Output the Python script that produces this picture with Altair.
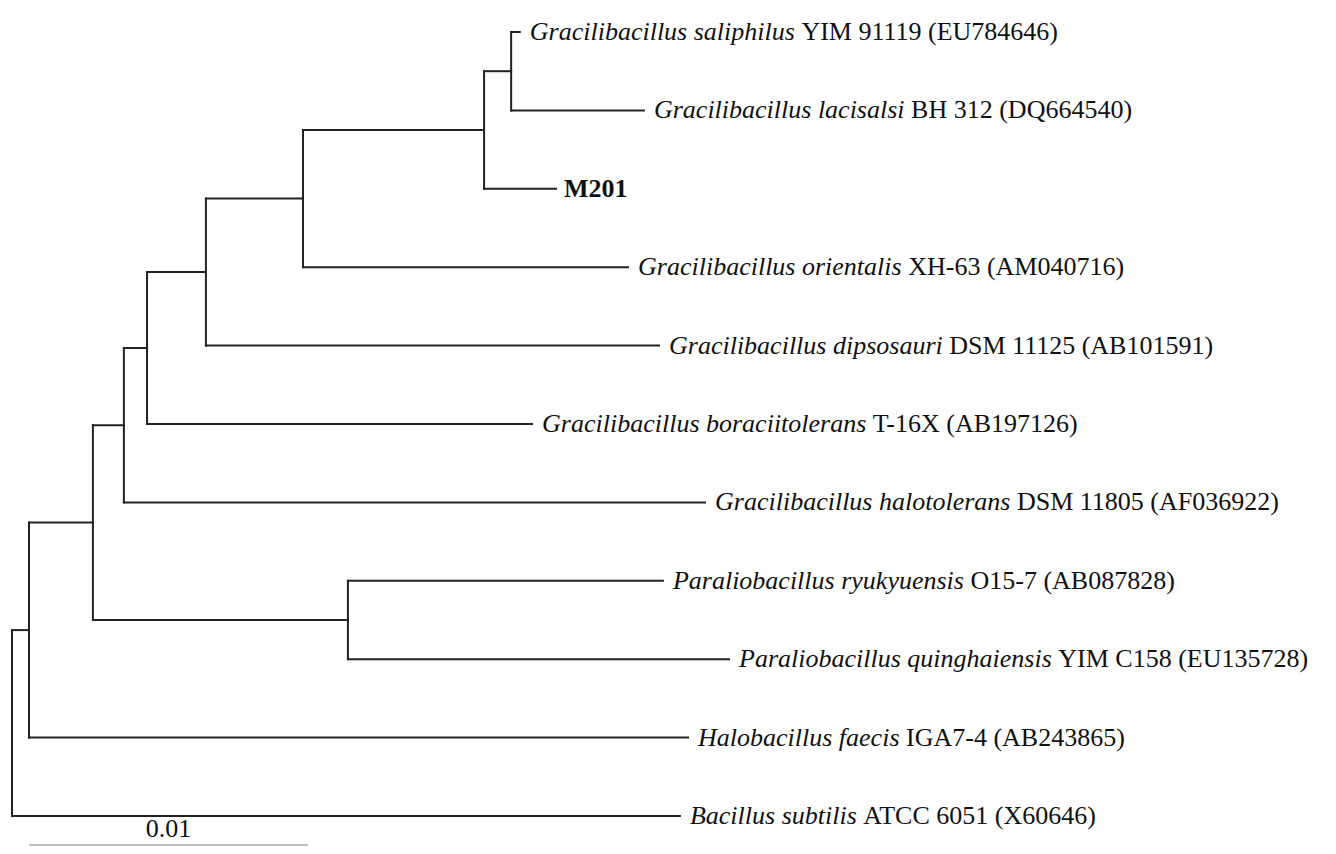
import altair as alt
import pandas as pd

# ---------------- data ----------------
leaf_italic = [
    "Gracilibacillus saliphilus",
    "Gracilibacillus lacisalsi",
    "",
    "Gracilibacillus orientalis",
    "Gracilibacillus dipsosauri",
    "Gracilibacillus boraciitolerans",
    "Gracilibacillus halotolerans",
    "Paraliobacillus ryukyuensis",
    "Paraliobacillus quinghaiensis",
    "Halobacillus faecis",
    "Bacillus subtilis",
]
leaf_rest = [
    "YIM 91119 (EU784646)",
    "BH 312 (DQ664540)",
    "M201",
    "XH-63 (AM040716)",
    "DSM 11125 (AB101591)",
    "T-16X (AB197126)",
    "DSM 11805 (AF036922)",
    "O15-7 (AB087828)",
    "YIM C158 (EU135728)",
    "IGA7-4 (AB243865)",
    "ATCC 6051 (X60646)",
]
leaf_bold = [False, False, True, False, False, False, False, False, False, False, False]
# cumulative distance from root (substitutions per site)
leaf_depth = [0.01820, 0.02265, 0.01950, 0.02208, 0.02319, 0.01864,
              0.02484, 0.02333, 0.02570, 0.02423, 0.02394]
leaf_parent = ["A", "A", "B", "C", "D", "E", "F", "P", "P", "H", "root"]

node_names = ["root", "H", "G", "F", "E", "D", "C", "B", "A", "P"]
node_depth = [0.0, 0.00061, 0.00290, 0.00401, 0.00484, 0.00695,
              0.01043, 0.01692, 0.01789, 0.01204]
node_parent = ["", "root", "H", "G", "F", "E", "D", "C", "B", "G"]

scale_bar_length = 0.01
scale_bar_label = "0.01"

# ---------------- layout ----------------
W, H = 1320, 838
X_DOMAIN = [-0.0001434, 0.047168]
Y_DOMAIN = [-0.3061, 10.383]
PXU = W / (X_DOMAIN[1] - X_DOMAIN[0])
FONT = "Liberation Serif"
FS = 26
GAP = 10

ITALIC_W = {" ": 250, "a": 500, "b": 500, "c": 444, "d": 500, "e": 444, "f": 278,
            "g": 500, "h": 500, "i": 278, "k": 444, "l": 278, "m": 722, "n": 500,
            "o": 500, "p": 500, "q": 500, "r": 389, "s": 389, "t": 278, "u": 500,
            "v": 444, "y": 444, "G": 722, "P": 611, "H": 722, "B": 611}


def italic_width(s):
    return sum(ITALIC_W.get(c, 500) for c in s) * FS / 1000.0


# ---------------- tree geometry ----------------
depth = {n: d for n, d in zip(node_names, node_depth)}
parent = {n: p for n, p in zip(node_names, node_parent)}
children = {n: [] for n in node_names}
ypos = {}
for i, (p, d) in enumerate(zip(leaf_parent, leaf_depth)):
    name = f"leaf{i}"
    depth[name] = d
    parent[name] = p
    children[p].append(name)
    ypos[name] = float(i)
for n, p in zip(node_names, node_parent):
    if p:
        children[p].append(n)


def get_y(n):
    if n in ypos:
        return ypos[n]
    ys = [get_y(c) for c in children[n]]
    ypos[n] = (min(ys) + max(ys)) / 2.0
    return ypos[n]


get_y("root")

segs = []
for n, p in parent.items():
    if p:
        segs.append({"x": depth[p], "x2": depth[n], "y": ypos[n], "y2": ypos[n]})
for n in node_names:
    ys = [ypos[c] for c in children[n]]
    segs.append({"x": depth[n], "x2": depth[n], "y": min(ys), "y2": max(ys)})
seg_df = pd.DataFrame(segs)

lab = []
for i in range(len(leaf_depth)):
    iw = italic_width(leaf_italic[i]) + (250 * FS / 1000.0 if leaf_italic[i] else 0)
    lab.append({
        "x": leaf_depth[i],
        "y": float(i),
        "ital": leaf_italic[i],
        "rest": leaf_rest[i],
        "xr": leaf_depth[i] + iw / PXU,
        "bold": leaf_bold[i],
    })
lab_df = pd.DataFrame(lab)

xs = alt.Scale(domain=X_DOMAIN, nice=False, zero=False)
ys_ = alt.Scale(domain=Y_DOMAIN, nice=False, zero=False, reverse=True)

lines = alt.Chart(seg_df).mark_rule(color="#222222", strokeWidth=2, strokeCap="square").encode(
    x=alt.X("x:Q", scale=xs, axis=None),
    x2="x2:Q",
    y=alt.Y("y:Q", scale=ys_, axis=None),
    y2="y2:Q",
)

ital = alt.Chart(lab_df[lab_df["ital"] != ""]).mark_text(
    align="left", baseline="middle", font=FONT, fontSize=FS, fontStyle="italic",
    dx=GAP, color="#111111"
).encode(x=alt.X("x:Q", scale=xs), y=alt.Y("y:Q", scale=ys_), text="ital:N")

rest = alt.Chart(lab_df[~lab_df["bold"]]).mark_text(
    align="left", baseline="middle", font=FONT, fontSize=FS, dx=GAP, color="#111111"
).encode(x=alt.X("xr:Q", scale=xs), y=alt.Y("y:Q", scale=ys_), text="rest:N")

bold = alt.Chart(lab_df[lab_df["bold"]]).mark_text(
    align="left", baseline="middle", font=FONT, fontSize=FS, fontWeight="bold",
    dx=GAP - 2, color="#111111"
).encode(x=alt.X("xr:Q", scale=xs), y=alt.Y("y:Q", scale=ys_), text="rest:N")

bar_df = pd.DataFrame({
    "x": [node_depth[1]], "x2": [node_depth[1] + scale_bar_length],
    "y": [10.37], "xm": [node_depth[1] + scale_bar_length / 2], "ty": [10.17],
    "label": [scale_bar_label],
})
bar = alt.Chart(bar_df).mark_rule(color="#aaaaaa", strokeWidth=1.5).encode(
    x=alt.X("x:Q", scale=xs), x2="x2:Q", y=alt.Y("y:Q", scale=ys_)
)
bar_text = alt.Chart(bar_df).mark_text(
    align="center", baseline="middle", font=FONT, fontSize=FS, color="#111111"
).encode(x=alt.X("xm:Q", scale=xs), y=alt.Y("ty:Q", scale=ys_), text="label:N")

chart = alt.layer(lines, ital, rest, bold, bar, bar_text).properties(
    width=W, height=H, padding=0, autosize=alt.AutoSizeParams(type="none"),
    background="white"
).configure_view(stroke=None)

chart.save("out.html", embed_options={"renderer": "svg", "actions": False})
